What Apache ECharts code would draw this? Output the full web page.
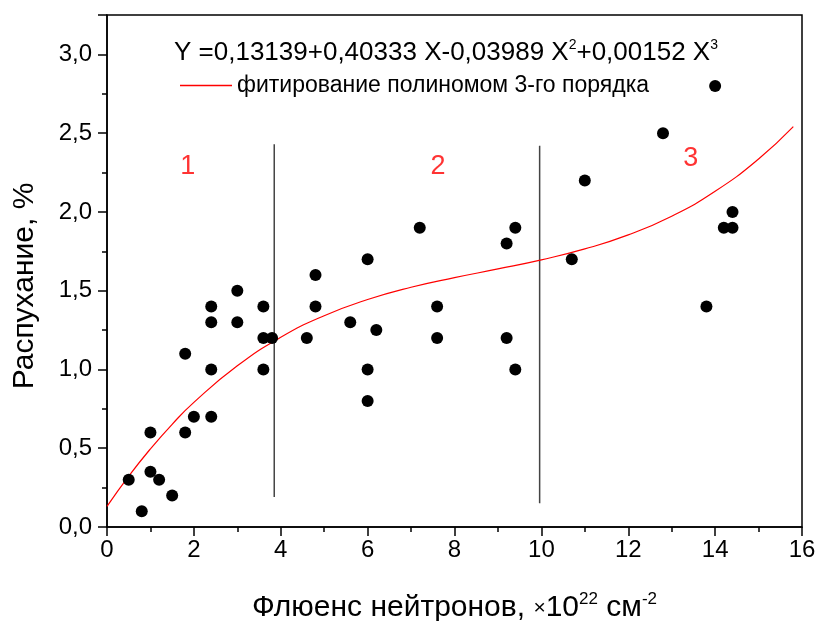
<!DOCTYPE html>
<html>
<head>
<meta charset="utf-8">
<script src="https://cdn.jsdelivr.net/npm/echarts@6/dist/echarts.min.js"></script>
<style>html,body{margin:0;padding:0;background:#fff}#c{width:819px;height:621px}</style>
</head>
<body>
<div id="c"></div>
<script>
// Experimental points (fluence ×10^22 cm^-2, swelling %)
const pointsX = [0.5,0.8,1.0,1.0,1.2,1.5,1.8,1.8,2.0,2.4,2.4,2.4,2.4,3.0,3.0,3.6,3.6,3.6,3.8,4.6,4.8,4.8,5.6,6.0,6.0,6.0,6.2,7.2,7.6,7.6,9.2,9.2,9.4,9.4,10.7,11.0,12.8,13.8,14.0,14.2,14.4,14.4];
const pointsY = [0.3,0.1,0.6,0.35,0.3,0.2,0.6,1.1,0.7,0.7,1.0,1.3,1.4,1.5,1.3,1.4,1.2,1.0,1.2,1.2,1.4,1.6,1.3,1.7,1.0,0.8,1.25,1.9,1.4,1.2,1.8,1.2,1.9,1.0,1.7,2.2,2.5,1.4,2.8,1.9,2.0,1.9];
// Fit curve
const fitX = [0,0.5,1,1.5,2,3,4,5,6,7,8,9,10,11,12,13,14,15,15.8];
const fitY = [0.131,0.323,0.496,0.652,0.791,1.023,1.204,1.341,1.444,1.522,1.583,1.638,1.696,1.765,1.854,1.973,2.131,2.336,2.541];
// Region boundary lines
const line1X = [3.85,3.85], line1Y = [0.19,2.43];
const line2X = [9.96,9.96], line2Y = [0.15,2.42];
// Region labels
const regionLabels = [['1',1.86,2.29],['2',7.62,2.29],['3',13.44,2.34]];
const xTicks = [0,2,4,6,8,10,12,14,16];
const yTicks = ['0,0','0,5','1,0','1,5','2,0','2,5','3,0'];

const F = 'Liberation Sans, Arial, sans-serif';
const zip = (a,b) => a.map((v,i)=>[v,b[i]]);

const chart = echarts.init(document.getElementById('c'), null, {renderer:'canvas'});
chart.setOption({
  animation:false,
  backgroundColor:'#fff',
  textStyle:{fontFamily:F},
  title:{
    text:'Y =0,13139+0,40333 X-0,03989 X{s|2}+0,00152 X{s|3}',
    left:441, top:33, textAlign:'center',
    textStyle:{fontFamily:F, fontSize:26, fontWeight:'normal', color:'#000',
      rich:{s:{fontSize:14, verticalAlign:'top', padding:[0,0,15,0], fontFamily:F, color:'#000'}}}
  },
  legend:{
    data:['фитирование полиномом 3-го порядка'],
    left:175, top:69, itemWidth:52, itemHeight:1.5, itemGap:8,
    icon:'rect',
    textStyle:{fontFamily:F, fontSize:23, color:'#000'}
  },
  graphic:[{
    type:'text', x:25, y:286, rotation:Math.PI/2,
    style:{text:'Распухание, %', fontFamily:F, fontSize:30, fill:'#000', textAlign:'center', textVerticalAlign:'middle'}
  }],
  grid:{left:107, right:17, top:15, bottom:94, show:true, borderColor:'#000', borderWidth:1.5, outerBoundsMode:'none', containLabel:false},
  xAxis:{
    type:'value', min:0, max:16, interval:2,
    axisLine:{lineStyle:{color:'#000', width:1.5}},
    axisTick:{inside:false, length:9, lineStyle:{color:'#000', width:1.5}},
    minorTick:{show:true, splitNumber:2, length:5, lineStyle:{color:'#000', width:1.5}},
    splitLine:{show:false},
    axisLabel:{fontFamily:F, fontSize:24, color:'#000', margin:11,
      formatter:v=>xTicks.includes(v)?String(v):''},
    name:'{a|Флюенс нейтронов, }{m|×}{a|10}{s|22}{a| см}{s|-2}',
    nameLocation:'middle', nameGap:64,
    nameTextStyle:{rich:{
      a:{fontFamily:F, fontSize:30, color:'#000'},
      m:{fontFamily:F, fontSize:21, color:'#000'},
      s:{fontFamily:F, fontSize:17, color:'#000', verticalAlign:'top', padding:[0,0,17,0]}
    }}
  },
  yAxis:{
    type:'value', min:0, max:3.25, interval:0.5,
    axisLine:{lineStyle:{color:'#000', width:1.5}},
    axisTick:{inside:false, length:9, lineStyle:{color:'#000', width:1.5}},
    minorTick:{show:true, splitNumber:2, length:5, lineStyle:{color:'#000', width:1.5}},
    splitLine:{show:false},
    axisLabel:{fontFamily:F, fontSize:24, color:'#000', margin:15, showMaxLabel:false,
      formatter:v=>{const i=Math.round(v/0.5); return Math.abs(i*0.5-v)<1e-9 && yTicks[i]!==undefined ? yTicks[i] : '';}}
  },
  series:[
    {type:'line', data:zip(line1X,line1Y), symbol:'none', lineStyle:{color:'#444', width:1.5}, silent:true, z:2},
    {type:'line', data:zip(line2X,line2Y), symbol:'none', lineStyle:{color:'#444', width:1.5}, silent:true, z:2},
    {name:'фитирование полиномом 3-го порядка', type:'line', data:zip(fitX,fitY), smooth:true, symbol:'none',
      lineStyle:{color:'#ff0000', width:1.2}, itemStyle:{color:'#ff0000'}, z:3},
    {type:'scatter', data:zip(pointsX,pointsY), symbol:'circle', symbolSize:12, itemStyle:{color:'#000', opacity:1}, z:4},
    {type:'scatter', data:regionLabels.map(r=>[r[1],r[2],r[0]]), symbolSize:0, z:5,
      label:{show:true, position:'inside', formatter:p=>p.data[2], fontFamily:F, fontSize:27, color:'#ff0000'}}
  ]
});
</script>
</body>
</html>
